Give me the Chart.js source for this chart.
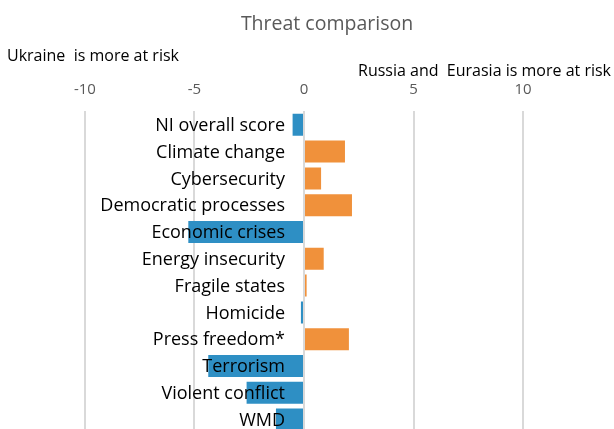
<!DOCTYPE html>
<html>
<head>
<meta charset="utf-8">
<script src="https://cdn.jsdelivr.net/npm/chart.js@4"></script>
<style>
  html, body { margin: 0; padding: 0; background: #fff; overflow: hidden; }
  #wrap { width: 614px; height: 433px; position: relative; }
</style>
</head>
<body>
<div id="wrap"><canvas id="threatChart"></canvas></div>
<script>
  // Threat comparison data (negative = Ukraine more at risk)
  const categories = [
    "NI overall score",
    "Climate change",
    "Cybersecurity",
    "Democratic processes",
    "Economic crises",
    "Energy insecurity",
    "Fragile states",
    "Homicide",
    "Press freedom*",
    "Terrorism",
    "Violent conflict",
    "WMD",
  ];
  const scores = [-0.52, 1.87, 0.78, 2.19, -5.28, 0.9, 0.12, -0.14, 2.05, -4.37, -2.62, -1.28];
  const tickValues = [-10, -5, 0, 5, 10];

  const BLUE = "#2e8fc4";
  const ORANGE = "#f0913b";
  const FONT = "'Open Sans', 'Noto Sans', sans-serif";

  // Category names sit just left of the zero line, over the bars
  const categoryLabelPlugin = {
    id: "categoryLabels",
    afterDatasetsDraw(chart) {
      const { ctx, scales } = chart;
      const x0 = scales.x.getPixelForValue(0);
      ctx.save();
      ctx.font = "18px " + FONT;
      ctx.fillStyle = "#000";
      ctx.textAlign = "right";
      ctx.textBaseline = "middle";
      categories.forEach((label, i) => {
        ctx.fillText(label, x0 - 19, scales.y.getPixelForValue(i) + 1);
      });
      ctx.restore();
    },
  };

  // The two side captions above the axis
  const sideCaptionPlugin = {
    id: "sideCaptions",
    afterDraw(chart) {
      const { ctx } = chart;
      ctx.save();
      ctx.font = "16px " + FONT;
      ctx.fillStyle = "#000";
      ctx.textBaseline = "middle";
      ctx.textAlign = "left";
      ctx.fillText("Ukraine  is more at risk", 7, 56);
      ctx.textAlign = "right";
      ctx.fillText("Russia and  Eurasia is more at risk", 611, 71);
      ctx.restore();
    },
  };

  new Chart(document.getElementById("threatChart"), {
    type: "bar",
    data: {
      labels: categories,
      datasets: [
        {
          data: scores,
          backgroundColor: scores.map((v) => (v < 0 ? BLUE : ORANGE)),
          borderWidth: 0,
          categoryPercentage: 1,
          barPercentage: 0.82,
        },
      ],
    },
    plugins: [categoryLabelPlugin, sideCaptionPlugin],
    options: {
      indexAxis: "y",
      responsive: true,
      maintainAspectRatio: false,
      animation: false,
      layout: { padding: { left: 40, right: 0, top: 0, bottom: 0 } },
      scales: {
        x: {
          position: "top",
          min: -12.05,
          max: 14.15,
          afterBuildTicks(axis) {
            axis.ticks = tickValues.map((v) => ({ value: v }));
          },
          ticks: {
            color: "#595959",
            font: { family: FONT, size: 15 },
            padding: 13,
          },
          grid: { color: "#d9d9d9", lineWidth: 2, drawTicks: false },
          border: { display: false },
        },
        y: {
          display: false,
        },
      },
      plugins: {
        legend: { display: false },
        tooltip: { enabled: false },
        title: {
          display: true,
          text: "Threat comparison",
          color: "#595959",
          font: { family: FONT, size: 19.5, weight: "normal" },
          padding: { top: 13, bottom: 31 },
        },
      },
    },
  });
</script>
</body>
</html>
